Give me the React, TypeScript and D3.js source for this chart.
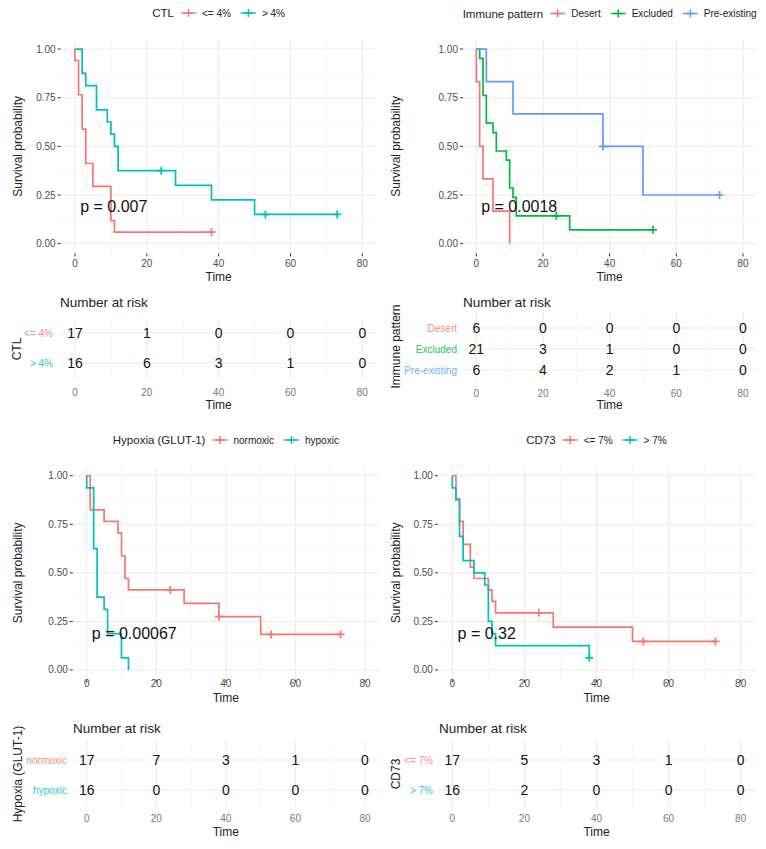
import React from "react";
import * as d3 from "d3";

const FONT = "'Liberation Sans', Arial, Helvetica, sans-serif";
const RED = "#F8766D";
const TEAL = "#00BFC4";
const GREEN = "#00BA38";
const BLUE = "#619CFF";

// Axis ticks
const xTicks = [0, 20, 40, 60, 80];
const xMinor = [10, 30, 50, 70];
const yTicks = [0, 0.25, 0.5, 0.75, 1];
const yMinor = [0.125, 0.375, 0.625, 0.875];
const riskTimes = [0, 20, 40, 60, 80];

// ---- CTL ----
const ctlLowTimes = [0, 1, 2, 3, 5, 10, 11];
const ctlLowSurv = [0.941, 0.765, 0.588, 0.412, 0.294, 0.118, 0.059];
const ctlLowCensor = [38];
const ctlLowRisk = [17, 1, 0, 0, 0];
const ctlHighTimes = [2, 3, 6, 9, 10, 11, 12, 28, 38, 50];
const ctlHighSurv = [0.875, 0.8125, 0.6875, 0.625, 0.5625, 0.5, 0.375, 0.3, 0.225, 0.15];
const ctlHighCensor = [24, 53, 73];
const ctlHighRisk = [16, 6, 3, 1, 0];

// ---- Immune pattern ----
const desertTimes = [0, 1, 2, 5, 10];
const desertSurv = [0.833, 0.5, 0.333, 0.167, 0];
const desertCensor: number[] = [];
const desertRisk = [6, 0, 0, 0, 0];
const excludedTimes = [1, 2, 3, 5, 6, 9, 10, 11, 12, 28];
const excludedSurv = [0.952, 0.762, 0.619, 0.571, 0.476, 0.429, 0.286, 0.238, 0.143, 0.071];
const excludedCensor = [24, 53];
const excludedRisk = [21, 3, 1, 0, 0];
const preTimes = [3, 11, 38, 50];
const preSurv = [0.833, 0.667, 0.5, 0.25];
const preCensor = [38, 73];
const preRisk = [6, 4, 2, 1, 0];

// ---- Hypoxia ----
const normoTimes = [1, 5, 9, 10, 11, 12, 28, 38, 50];
const normoSurv = [0.824, 0.765, 0.706, 0.588, 0.471, 0.412, 0.343, 0.275, 0.183];
const normoCensor = [24, 38, 53, 73];
const normoRisk = [17, 7, 3, 1, 0];
const hypoTimes = [0, 2, 3, 5, 6, 10, 12];
const hypoSurv = [0.9375, 0.625, 0.375, 0.3125, 0.1875, 0.0625, 0];
const hypoCensor: number[] = [];
const hypoRisk = [16, 0, 0, 0, 0];

// ---- CD73 ----
const cdLowTimes = [1, 2, 3, 5, 6, 10, 11, 12, 28, 50];
const cdLowSurv = [0.882, 0.765, 0.647, 0.529, 0.471, 0.412, 0.353, 0.294, 0.221, 0.147];
const cdLowCensor = [24, 53, 73];
const cdLowRisk = [17, 5, 3, 1, 0];
const cdHighTimes = [0, 1, 2, 3, 6, 9, 10, 11, 12, 38];
const cdHighSurv = [0.9375, 0.875, 0.6875, 0.5625, 0.5, 0.4375, 0.25, 0.1875, 0.125, 0.0625];
const cdHighCensor = [38];
const cdHighRisk = [16, 2, 0, 0, 0];

type Group = {
  name: string;
  color: string;
  times: number[];
  surv: number[];
  censor: number[];
  end: number;
  risk: number[];
};

type Layout = {
  x0: number; x1: number; y0: number; y1: number;
  xTickY: number; xTitleY: number; yTitleX: number; legendY: number;
  riskTop: number; riskBottom: number; riskRow0: number; riskRowN: number;
  headX: number; headY: number; riskTickY: number; riskTitleY: number;
  labelX: number; riskTitleX: number;
};

let _ctx: CanvasRenderingContext2D | null = null;
function textW(t: string, size: number) {
  if (!_ctx) _ctx = document.createElement("canvas").getContext("2d");
  if (!_ctx) return t.length * size * 0.55;
  _ctx.font = `${size}px ${FONT}`;
  return _ctx.measureText(t).width;
}

function plusPath(cx: number, cy: number, r: number) {
  return `M${cx - r},${cy}H${cx + r}M${cx},${cy - r}V${cy + r}`;
}

const LW = 1.7;

function KMPanel({ L, title, groups, pval }: { L: Layout; title: string; groups: Group[]; pval: string }) {
  const x = d3.scaleLinear().domain([-4, 84]).range([L.x0, L.x1]);
  const y = d3.scaleLinear().domain([-0.05, 1.05]).range([L.y1, L.y0]);
  const line = d3
    .line<[number, number]>()
    .x((d) => x(d[0]))
    .y((d) => y(d[1]))
    .curve(d3.curveStepAfter);

  const survAt = (g: Group, t: number) => {
    let s = 1;
    g.times.forEach((tt, i) => {
      if (tt <= t) s = g.surv[i];
    });
    return s;
  };

  // legend layout
  const titleSize = 11.5;
  const labSize = 10;
  const keyW = 15;
  const items: { kind: string; x: number; g?: Group }[] = [];
  let cur = 0;
  const tW = textW(title, titleSize);
  items.push({ kind: "title", x: 0 });
  cur = tW + 7;
  groups.forEach((g, i) => {
    items.push({ kind: "key", x: cur, g });
    cur += keyW + 6;
    items.push({ kind: "label", x: cur, g });
    cur += textW(g.name, labSize);
    if (i < groups.length - 1) cur += 10;
  });
  const legStart = (L.x0 + L.x1) / 2 - cur / 2;

  const ry = d3
    .scalePoint<string>()
    .domain(groups.map((g) => g.name))
    .range([L.riskRow0, L.riskRowN]);

  const plotMidY = (L.y0 + L.y1) / 2;
  const riskMidY = (L.riskTop + L.riskBottom) / 2;

  return (
    <g>
      {/* grid */}
      {xMinor.map((t) => (
        <line key={"xm" + t} x1={x(t)} x2={x(t)} y1={L.y0} y2={L.y1} stroke="#F3F3F3" strokeWidth={0.7} />
      ))}
      {yMinor.map((t) => (
        <line key={"ym" + t} x1={L.x0} x2={L.x1} y1={y(t)} y2={y(t)} stroke="#F3F3F3" strokeWidth={0.7} />
      ))}
      {xTicks.map((t) => (
        <line key={"xg" + t} x1={x(t)} x2={x(t)} y1={L.y0} y2={L.y1} stroke="#EBEBEB" strokeWidth={1} />
      ))}
      {yTicks.map((t) => (
        <line key={"yg" + t} x1={L.x0} x2={L.x1} y1={y(t)} y2={y(t)} stroke="#EBEBEB" strokeWidth={1} />
      ))}
      {/* curves */}
      {groups.map((g) => {
        const pts: [number, number][] = [[0, 1]];
        g.times.forEach((t, i) => pts.push([t, g.surv[i]]));
        pts.push([g.end, g.surv[g.surv.length - 1]]);
        return <path key={g.name} d={line(pts) || ""} fill="none" stroke={g.color} strokeWidth={LW} />;
      })}
      {groups.map((g) =>
        g.censor.map((c, i) => (
          <path key={g.name + "c" + i} d={plusPath(x(c), y(survAt(g, c)), 4)} stroke={g.color} strokeWidth={LW} />
        ))
      )}
      {/* p-value */}
      <text x={x(1.46)} y={y(0.19)} fontSize={16} fontFamily={FONT} fill="#111" dominantBaseline="central">
        {pval}
      </text>
      {/* axes ticks */}
      {yTicks.map((t) => (
        <g key={"yt" + t}>
          <line x1={L.x0 - 3} x2={L.x0} y1={y(t)} y2={y(t)} stroke="#333" strokeWidth={1} />
          <text x={L.x0 - 5} y={y(t)} fontSize={10} fontFamily={FONT} fill="#4D4D4D" textAnchor="end" dominantBaseline="central">
            {d3.format(".2f")(t)}
          </text>
        </g>
      ))}
      {xTicks.map((t) => (
        <g key={"xt" + t}>
          <line x1={x(t)} x2={x(t)} y1={L.y1} y2={L.y1 + 3} stroke="#333" strokeWidth={1} />
          <text x={x(t)} y={L.xTickY} fontSize={10} fontFamily={FONT} fill="#4D4D4D" textAnchor="middle" dominantBaseline="central">
            {t}
          </text>
        </g>
      ))}
      <text x={(L.x0 + L.x1) / 2} y={L.xTitleY} fontSize={12} fontFamily={FONT} fill="#222" textAnchor="middle" dominantBaseline="central">
        Time
      </text>
      <text
        transform={`translate(${L.yTitleX},${plotMidY}) rotate(-90)`}
        fontSize={12}
        fontFamily={FONT}
        fill="#222"
        textAnchor="middle"
        dominantBaseline="central"
      >
        Survival probability
      </text>
      {/* legend */}
      {items.map((it, i) => {
        const lx = legStart + it.x;
        if (it.kind === "title")
          return (
            <text key={i} x={lx} y={L.legendY} fontSize={titleSize} fontFamily={FONT} fill="#222" dominantBaseline="central">
              {title}
            </text>
          );
        if (it.kind === "key")
          return (
            <g key={i}>
              <line x1={lx} x2={lx + keyW} y1={L.legendY} y2={L.legendY} stroke={it.g!.color} strokeWidth={1.5} />
              <path d={plusPath(lx + keyW / 2, L.legendY, 4)} stroke={it.g!.color} strokeWidth={1.5} />
            </g>
          );
        return (
          <text key={i} x={lx} y={L.legendY} fontSize={labSize} fontFamily={FONT} fill="#222" dominantBaseline="central">
            {it.g!.name}
          </text>
        );
      })}
      {/* risk table */}
      {xMinor.map((t) => (
        <line key={"rxm" + t} x1={x(t)} x2={x(t)} y1={L.riskTop} y2={L.riskBottom} stroke="#F3F3F3" strokeWidth={0.7} />
      ))}
      {riskTimes.map((t) => (
        <line key={"rxg" + t} x1={x(t)} x2={x(t)} y1={L.riskTop} y2={L.riskBottom} stroke="#EBEBEB" strokeWidth={1} />
      ))}
      {groups.map((g) => (
        <line key={"rh" + g.name} x1={L.x0} x2={L.x1} y1={ry(g.name)!} y2={ry(g.name)!} stroke="#EBEBEB" strokeWidth={1} />
      ))}
      <text x={L.headX} y={L.headY} fontSize={13.5} fontFamily={FONT} fill="#222" dominantBaseline="central">
        Number at risk
      </text>
      {groups.map((g) =>
        g.risk.map((n, i) => (
          <text
            key={g.name + "r" + i}
            x={x(riskTimes[i])}
            y={ry(g.name)!}
            fontSize={14}
            fontFamily={FONT}
            fill="#111"
            textAnchor="middle"
            dominantBaseline="central"
          >
            {n}
          </text>
        ))
      )}
      {groups.map((g) => (
        <text
          key={"rl" + g.name}
          x={L.labelX}
          y={ry(g.name)!}
          fontSize={10}
          fontFamily={FONT}
          fill={g.color}
          opacity={0.85}
          textAnchor="end"
          dominantBaseline="central"
        >
          {g.name}
        </text>
      ))}
      {riskTimes.map((t) => (
        <text key={"rt" + t} x={x(t)} y={L.riskTickY} fontSize={10} fontFamily={FONT} fill="#7A7A7A" textAnchor="middle" dominantBaseline="central">
          {t}
        </text>
      ))}
      <text x={(L.x0 + L.x1) / 2} y={L.riskTitleY} fontSize={12} fontFamily={FONT} fill="#222" textAnchor="middle" dominantBaseline="central">
        Time
      </text>
      <text
        transform={`translate(${L.riskTitleX},${riskMidY}) rotate(-90)`}
        fontSize={12}
        fontFamily={FONT}
        fill="#222"
        textAnchor="middle"
        dominantBaseline="central"
      >
        {title}
      </text>
    </g>
  );
}

const L1: Layout = {
  x0: 60.6, x1: 376.7, y0: 39.3, y1: 253.4,
  xTickY: 263, xTitleY: 277, yTitleX: 18, legendY: 13,
  riskTop: 319, riskBottom: 379, riskRow0: 333, riskRowN: 363,
  headX: 60, headY: 302, riskTickY: 392, riskTitleY: 405, labelX: 53, riskTitleX: 17,
};
const L2: Layout = {
  x0: 463, x1: 756.3, y0: 39.3, y1: 253.4,
  xTickY: 263, xTitleY: 277, yTitleX: 396, legendY: 13.5,
  riskTop: 312, riskBottom: 381, riskRow0: 328, riskRowN: 370,
  headX: 463, headY: 302, riskTickY: 393, riskTitleY: 405, labelX: 457, riskTitleX: 396,
};
const L3: Layout = {
  x0: 72.8, x1: 378.9, y0: 466, y1: 679.7,
  xTickY: 683, xTitleY: 698, yTitleX: 18, legendY: 440,
  riskTop: 741, riskBottom: 807, riskRow0: 760, riskRowN: 790,
  headX: 73, headY: 728, riskTickY: 818, riskTitleY: 832, labelX: 67, riskTitleX: 17.5,
};
const L4: Layout = {
  x0: 437.9, x1: 755.1, y0: 466, y1: 679.7,
  xTickY: 683, xTitleY: 698, yTitleX: 396, legendY: 440,
  riskTop: 741, riskBottom: 807, riskRow0: 760, riskRowN: 790,
  headX: 439, headY: 728, riskTickY: 818, riskTitleY: 832, labelX: 433, riskTitleX: 396,
};

export default function App() {
  const ctl: Group[] = [
    { name: "<= 4%", color: RED, times: ctlLowTimes, surv: ctlLowSurv, censor: ctlLowCensor, end: 38, risk: ctlLowRisk },
    { name: "> 4%", color: TEAL, times: ctlHighTimes, surv: ctlHighSurv, censor: ctlHighCensor, end: 73, risk: ctlHighRisk },
  ];
  const immune: Group[] = [
    { name: "Desert", color: RED, times: desertTimes, surv: desertSurv, censor: desertCensor, end: 10, risk: desertRisk },
    { name: "Excluded", color: GREEN, times: excludedTimes, surv: excludedSurv, censor: excludedCensor, end: 53, risk: excludedRisk },
    { name: "Pre-existing", color: BLUE, times: preTimes, surv: preSurv, censor: preCensor, end: 73, risk: preRisk },
  ];
  const hypoxia: Group[] = [
    { name: "normoxic", color: RED, times: normoTimes, surv: normoSurv, censor: normoCensor, end: 73, risk: normoRisk },
    { name: "hypoxic", color: TEAL, times: hypoTimes, surv: hypoSurv, censor: hypoCensor, end: 12, risk: hypoRisk },
  ];
  const cd73: Group[] = [
    { name: "<= 7%", color: RED, times: cdLowTimes, surv: cdLowSurv, censor: cdLowCensor, end: 73, risk: cdLowRisk },
    { name: "> 7%", color: TEAL, times: cdHighTimes, surv: cdHighSurv, censor: cdHighCensor, end: 38, risk: cdHighRisk },
  ];
  return (
    <svg width={766} height={849} style={{ position: "absolute", left: 0, top: 0, background: "#fff" }}>
      <rect width={766} height={849} fill="#fff" />
      <KMPanel L={L1} title="CTL" groups={ctl} pval="p = 0.007" />
      <KMPanel L={L2} title="Immune pattern" groups={immune} pval="p = 0.0018" />
      <KMPanel L={L3} title="Hypoxia (GLUT-1)" groups={hypoxia} pval="p = 0.00067" />
      <KMPanel L={L4} title="CD73" groups={cd73} pval="p = 0.32" />
    </svg>
  );
}
